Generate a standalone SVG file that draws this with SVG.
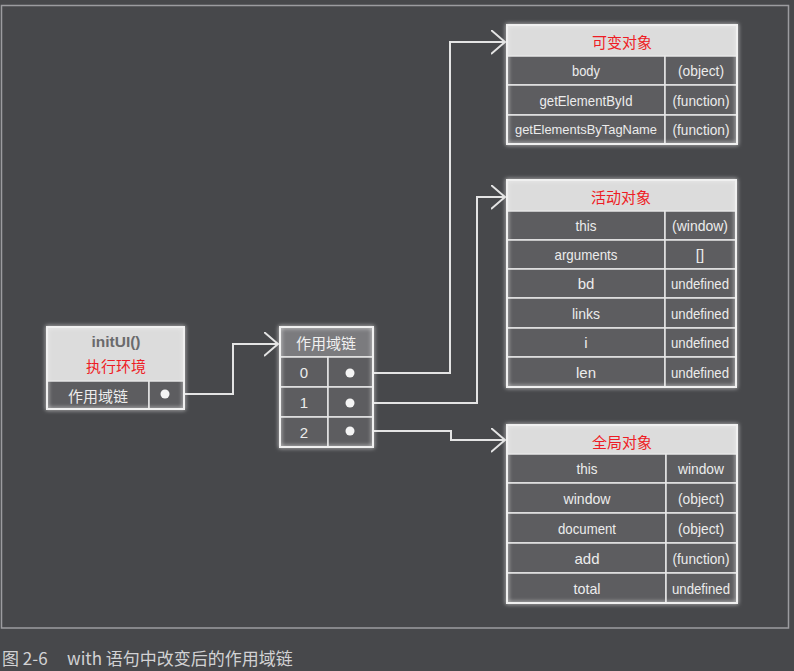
<svg xmlns="http://www.w3.org/2000/svg" width="794" height="671" viewBox="0 0 794 671">
<defs>
<style>
.t{font-family:"Liberation Sans",sans-serif;font-size:15px;fill:#ececec;text-anchor:middle;dominant-baseline:central}
.cjk{font-family:"Noto Sans CJK SC",sans-serif;font-size:14px;text-anchor:middle;dominant-baseline:central}
.red{fill:#ee1c25}
.hdr{fill:#dcdcdc}
.cell{fill:#5d5d60;stroke:#e6e6e6;stroke-width:1.5}
.frame{fill:none;stroke:#f0f0f0;stroke-width:2}
.line{fill:none;stroke:#e4e4e4;stroke-width:2}
.dot{fill:#f4f4f4}
</style>
<filter id="glow" x="-10%" y="-10%" width="120%" height="120%">
<feGaussianBlur in="SourceGraphic" stdDeviation="2.2" result="b"/>
<feMerge><feMergeNode in="b"/><feMergeNode in="SourceGraphic"/></feMerge>
</filter>
<marker id="arr" markerUnits="userSpaceOnUse" markerWidth="16" markerHeight="26" refX="14" refY="12" orient="auto" viewBox="0 0 16 26">
<path d="M0,0 L14,12 L0,24" fill="none" stroke="#e4e4e4" stroke-width="2"/>
</marker>
</defs>
<rect x="0" y="0" width="794" height="671" fill="#47484b"/>
<rect x="1.5" y="5.5" width="787" height="622.5" fill="none" stroke="#9c9ca0" stroke-width="1.5"/>

<g id="connectors">
<polyline class="line" points="165,394 233,394 233,344 278,344" marker-end="url(#arr)"/>
<polyline class="line" points="350,373 450,373 450,42 505,42" marker-end="url(#arr)"/>
<polyline class="line" points="350,403 477,403 477,197 505,197" marker-end="url(#arr)"/>
<polyline class="line" points="350,431 451,431 451,440 505,440" marker-end="url(#arr)"/>
</g>

<g id="context">
<rect x="47" y="327" width="137" height="54" class="hdr"/>
<rect x="47" y="381" width="102" height="28" class="cell"/>
<rect x="149" y="381" width="35" height="28" class="cell"/>
<rect x="47" y="327" width="137" height="82" class="frame" filter="url(#glow)"/>
<text x="116" y="341" class="t" style="fill:#6a6a6c;font-weight:bold" textLength="49" lengthAdjust="spacingAndGlyphs">initUI()</text>
<text x="116" y="365" class="cjk red" style="font-size:15px">执行环境</text>
<text x="98" y="395" class="cjk" style="fill:#ececec;font-size:15px">作用域链</text>
<circle cx="165" cy="394" r="4.5" class="dot"/>
</g>

<g id="scopechain">
<rect x="280" y="327" width="93" height="30" fill="#7b7b7e" stroke="#e6e6e6" stroke-width="1.5"/>
<rect x="280" y="357" width="48" height="30" class="cell"/>
<rect x="328" y="357" width="45" height="30" class="cell"/>
<rect x="280" y="387" width="48" height="30" class="cell"/>
<rect x="328" y="387" width="45" height="30" class="cell"/>
<rect x="280" y="417" width="48" height="30" class="cell"/>
<rect x="328" y="417" width="45" height="30" class="cell"/>
<rect x="280" y="327" width="93" height="120" class="frame" filter="url(#glow)"/>
<text x="326" y="342" class="cjk" style="fill:#f0f0f0;font-size:15px">作用域链</text>
<text x="304" y="372" class="t">0</text>
<text x="304" y="402" class="t">1</text>
<text x="304" y="432" class="t">2</text>
<circle cx="350" cy="373" r="4.5" class="dot"/>
<circle cx="350" cy="403" r="4.5" class="dot"/>
<circle cx="350" cy="431" r="4.5" class="dot"/>
</g>

<g id="mutable">
<rect x="507" y="25" width="230" height="31" class="hdr"/>
<rect x="507" y="56" width="158" height="29" class="cell"/><rect x="665" y="56" width="72" height="29" class="cell"/>
<rect x="507" y="85" width="158" height="30" class="cell"/><rect x="665" y="85" width="72" height="30" class="cell"/>
<rect x="507" y="115" width="158" height="29" class="cell"/><rect x="665" y="115" width="72" height="29" class="cell"/>
<rect x="507" y="25" width="230" height="119" class="frame" filter="url(#glow)"/>
<text x="622" y="41" class="cjk red" style="font-size:15px">可变对象</text>
<text x="586" y="70.5" class="t" textLength="28" lengthAdjust="spacingAndGlyphs">body</text><text x="701" y="70.5" class="t" textLength="46" lengthAdjust="spacingAndGlyphs">(object)</text>
<text x="586" y="100" class="t" textLength="93" lengthAdjust="spacingAndGlyphs">getElementById</text><text x="701" y="100" class="t" textLength="57" lengthAdjust="spacingAndGlyphs">(function)</text>
<text x="586" y="129.5" class="t" style="font-size:13px" textLength="142" lengthAdjust="spacingAndGlyphs">getElementsByTagName</text><text x="701" y="129.5" class="t" textLength="57" lengthAdjust="spacingAndGlyphs">(function)</text>
</g>

<g id="activation">
<rect x="507" y="180" width="229" height="31" class="hdr"/>
<rect x="507" y="211" width="158" height="29" class="cell"/><rect x="665" y="211" width="71" height="29" class="cell"/>
<rect x="507" y="240" width="158" height="29" class="cell"/><rect x="665" y="240" width="71" height="29" class="cell"/>
<rect x="507" y="269" width="158" height="29" class="cell"/><rect x="665" y="269" width="71" height="29" class="cell"/>
<rect x="507" y="298" width="158" height="30" class="cell"/><rect x="665" y="298" width="71" height="30" class="cell"/>
<rect x="507" y="328" width="158" height="29" class="cell"/><rect x="665" y="328" width="71" height="29" class="cell"/>
<rect x="507" y="357" width="158" height="30" class="cell"/><rect x="665" y="357" width="71" height="30" class="cell"/>
<rect x="507" y="180" width="229" height="207" class="frame" filter="url(#glow)"/>
<text x="621" y="196" class="cjk red" style="font-size:15px">活动对象</text>
<text x="586" y="225.5" class="t" textLength="21" lengthAdjust="spacingAndGlyphs">this</text><text x="700" y="225.5" class="t" textLength="56" lengthAdjust="spacingAndGlyphs">(window)</text>
<text x="586" y="254.5" class="t" textLength="63" lengthAdjust="spacingAndGlyphs">arguments</text><text x="700" y="254.5" class="t">[]</text>
<text x="586" y="283.5" class="t">bd</text><text x="700" y="283.5" class="t" textLength="58" lengthAdjust="spacingAndGlyphs">undefined</text>
<text x="586" y="313" class="t" textLength="28" lengthAdjust="spacingAndGlyphs">links</text><text x="700" y="313" class="t" textLength="58" lengthAdjust="spacingAndGlyphs">undefined</text>
<text x="586" y="342.5" class="t">i</text><text x="700" y="342.5" class="t" textLength="58" lengthAdjust="spacingAndGlyphs">undefined</text>
<text x="586" y="372" class="t">len</text><text x="700" y="372" class="t" textLength="58" lengthAdjust="spacingAndGlyphs">undefined</text>
</g>

<g id="global">
<rect x="507" y="425" width="230" height="29" class="hdr"/>
<rect x="507" y="454" width="159" height="29" class="cell"/><rect x="666" y="454" width="71" height="29" class="cell"/>
<rect x="507" y="483" width="159" height="30" class="cell"/><rect x="666" y="483" width="71" height="30" class="cell"/>
<rect x="507" y="513" width="159" height="30" class="cell"/><rect x="666" y="513" width="71" height="30" class="cell"/>
<rect x="507" y="543" width="159" height="30" class="cell"/><rect x="666" y="543" width="71" height="30" class="cell"/>
<rect x="507" y="573" width="159" height="30" class="cell"/><rect x="666" y="573" width="71" height="30" class="cell"/>
<rect x="507" y="425" width="230" height="178" class="frame" filter="url(#glow)"/>
<text x="622" y="441" class="cjk red" style="font-size:15px">全局对象</text>
<text x="587" y="468.5" class="t" textLength="21" lengthAdjust="spacingAndGlyphs">this</text><text x="701" y="468.5" class="t" textLength="46" lengthAdjust="spacingAndGlyphs">window</text>
<text x="587" y="498" class="t" textLength="47" lengthAdjust="spacingAndGlyphs">window</text><text x="701" y="498" class="t" textLength="46" lengthAdjust="spacingAndGlyphs">(object)</text>
<text x="587" y="528" class="t" textLength="58" lengthAdjust="spacingAndGlyphs">document</text><text x="701" y="528" class="t" textLength="46" lengthAdjust="spacingAndGlyphs">(object)</text>
<text x="587" y="558" class="t">add</text><text x="701" y="558" class="t" textLength="57" lengthAdjust="spacingAndGlyphs">(function)</text>
<text x="587" y="588" class="t" textLength="27" lengthAdjust="spacingAndGlyphs">total</text><text x="701" y="588" class="t" textLength="58" lengthAdjust="spacingAndGlyphs">undefined</text>
</g>

<g id="caption" style="font-family:'Noto Sans CJK SC',sans-serif;font-size:17px;fill:#d2d2d4">
<text x="2" y="665">图 2-6</text>
<text x="67" y="665">with 语句中改变后的作用域链</text>
</g>
</svg>
